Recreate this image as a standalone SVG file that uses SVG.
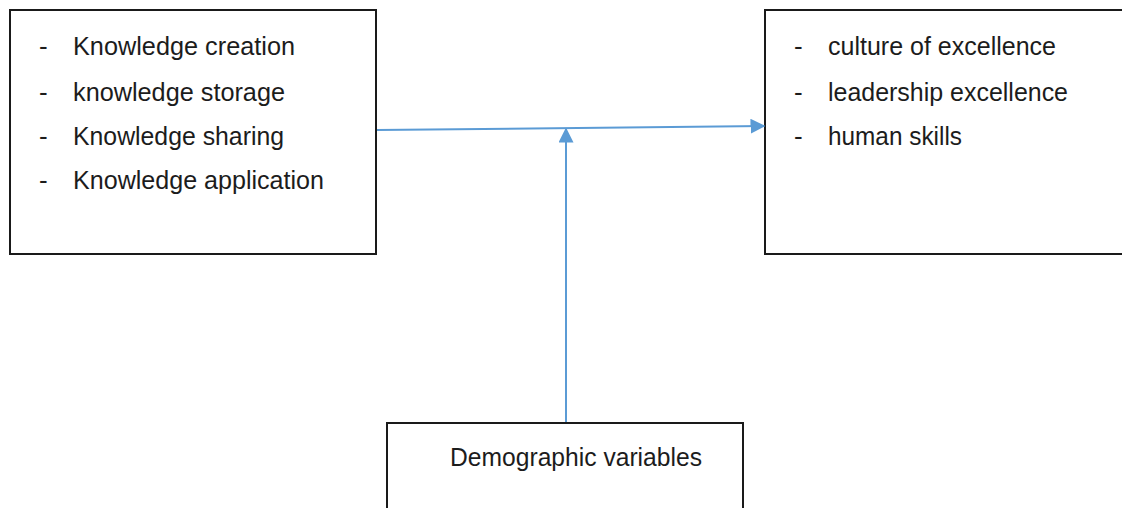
<svg xmlns="http://www.w3.org/2000/svg" width="1122" height="508" viewBox="0 0 1122 508">
<style>
.box{fill:#fff;stroke:#1a1a1a;stroke-width:2}
.t{font-family:"Liberation Sans",Arial,sans-serif;font-size:26px;fill:#1c1c1c}
.c{stroke:#5b9bd5;stroke-width:2;fill:none}
</style>
<defs>
<marker id="ah" viewBox="0 0 10 10" refX="9" refY="5" markerWidth="15" markerHeight="15" markerUnits="userSpaceOnUse" orient="auto">
<path d="M0,0 L10,5 L0,10 z" fill="#5b9bd5"/>
</marker>
</defs>
<rect width="1122" height="508" fill="#fff"/>
<g id="node-km">
<rect class="box" x="10" y="10" width="366" height="244"/>
<text class="t" x="39" y="55">-</text><text class="t" x="73" y="55" textLength="222" lengthAdjust="spacingAndGlyphs">Knowledge creation</text>
<text class="t" x="39" y="101">-</text><text class="t" x="73" y="101" textLength="212" lengthAdjust="spacingAndGlyphs">knowledge storage</text>
<text class="t" x="39" y="145">-</text><text class="t" x="73" y="145" textLength="211" lengthAdjust="spacingAndGlyphs">Knowledge sharing</text>
<text class="t" x="39" y="189">-</text><text class="t" x="73" y="189" textLength="251" lengthAdjust="spacingAndGlyphs">Knowledge application</text>
</g>
<g id="node-ex">
<rect class="box" x="765" y="10" width="370" height="244"/>
<text class="t" x="794" y="55">-</text><text class="t" x="828" y="55" textLength="228" lengthAdjust="spacingAndGlyphs">culture of excellence</text>
<text class="t" x="794" y="101">-</text><text class="t" x="828" y="101" textLength="240" lengthAdjust="spacingAndGlyphs">leadership excellence</text>
<text class="t" x="794" y="145">-</text><text class="t" x="828" y="145" textLength="134" lengthAdjust="spacingAndGlyphs">human skills</text>
</g>
<g id="node-demo">
<rect class="box" x="387" y="423" width="356" height="100"/>
<text class="t" x="450" y="466" textLength="252" lengthAdjust="spacingAndGlyphs">Demographic variables</text>
</g>
<g id="connectors">
<line class="c" x1="377" y1="130" x2="764" y2="126" marker-end="url(#ah)"/>
<line class="c" x1="566" y1="422" x2="566" y2="129" marker-end="url(#ah)"/>
</g>
</svg>
